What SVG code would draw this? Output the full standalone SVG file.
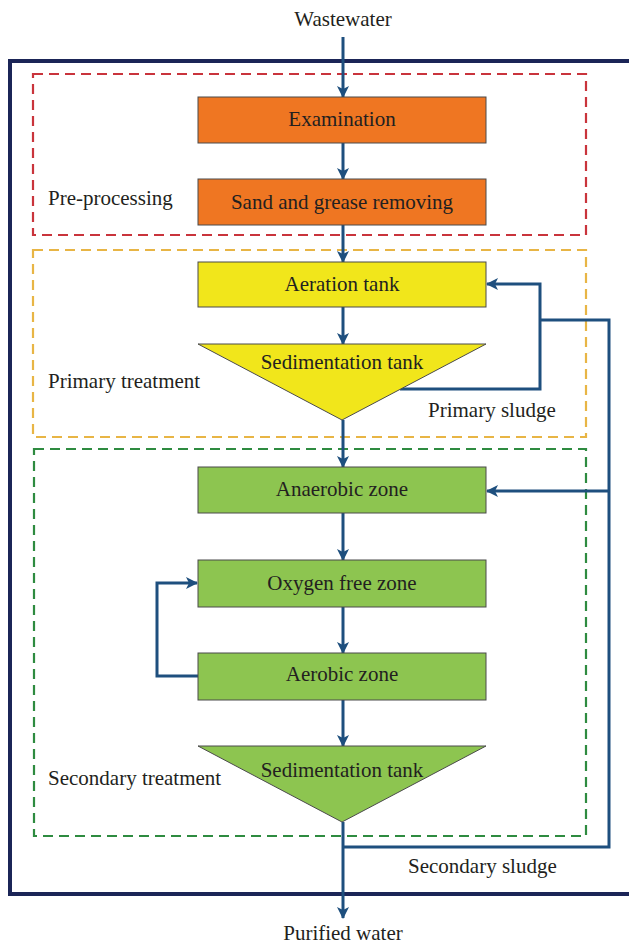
<svg xmlns="http://www.w3.org/2000/svg" width="629" height="946" viewBox="0 0 629 946">
<defs>
<marker id="ah" markerWidth="12" markerHeight="12" viewBox="0 0 12 12" refX="11" refY="6" orient="auto" markerUnits="userSpaceOnUse">
<path d="M0,0 L12,6 L0,12 L3,6 z" fill="#1e4f7e"/>
</marker>
<style>
text{font-family:"Liberation Serif","Times New Roman",serif;font-size:21px;fill:#231f20}
.c{text-anchor:middle}
.node{stroke:#4a4a4a;stroke-width:1}
.or{fill:#ef7622}
.ye{fill:#f1e61b}
.gr{fill:#8dc550}
.con{fill:none;stroke:#1e4f7e;stroke-width:3}
.arr{marker-end:url(#ah)}
.dash{fill:none;stroke-width:2.2;stroke-dasharray:10 6}
</style>
</defs>
<rect width="629" height="946" fill="#fff"/>
<g id="frame">
<rect x="10" y="61" width="640" height="833" fill="none" stroke="#1b2557" stroke-width="4"/>
</g>
<g id="zones">
<rect class="dash" x="33" y="74" width="553" height="161" stroke="#c9343c"/>
<rect class="dash" x="33" y="250" width="553" height="187" stroke="#e8b545"/>
<rect class="dash" x="34" y="449" width="552" height="387" stroke="#2e8b40"/>
<text x="48" y="205">Pre-processing</text>
<text x="48" y="388">Primary treatment</text>
<text x="48" y="785">Secondary treatment</text>
</g>
<g id="connectors">
<line class="con arr" x1="343" y1="37" x2="343" y2="97"/>
<line class="con arr" x1="343" y1="143" x2="343" y2="179"/>
<line class="con arr" x1="343" y1="225" x2="343" y2="262"/>
<line class="con arr" x1="343" y1="307" x2="343" y2="344"/>
<line class="con arr" x1="343" y1="420" x2="343" y2="467"/>
<line class="con arr" x1="343" y1="513" x2="343" y2="560"/>
<line class="con arr" x1="343" y1="607" x2="343" y2="653"/>
<line class="con arr" x1="343" y1="700" x2="343" y2="746"/>
<line class="con arr" x1="343" y1="822" x2="343" y2="918"/>
<polyline class="con arr" points="400,389 540,389 540,284 487,284"/>
<polyline class="con" points="343,847 609,847 609,320 540,320"/>
<line class="con arr" x1="609" y1="491" x2="487" y2="491"/>
<polyline class="con arr" points="198,676 157,676 157,583 197,583"/>
</g>
<g id="wastewater"><text class="c" x="343" y="26">Wastewater</text></g>
<g id="examination">
<rect class="node or" x="198" y="97" width="288" height="46"/>
<text class="c" x="342" y="126">Examination</text>
</g>
<g id="sand">
<rect class="node or" x="198" y="179" width="288" height="46"/>
<text class="c" x="342" y="209">Sand and grease removing</text>
</g>
<g id="aeration">
<rect class="node ye" x="198" y="262" width="288" height="45"/>
<text class="c" x="342" y="291">Aeration tank</text>
</g>
<g id="sed1">
<polygon class="node ye" points="198,344 486,344 342,420"/>
<text class="c" x="342" y="369">Sedimentation tank</text>
</g>
<g id="primary-sludge"><text x="428" y="417">Primary sludge</text></g>
<g id="anaerobic">
<rect class="node gr" x="198" y="467" width="288" height="46"/>
<text class="c" x="342" y="496">Anaerobic zone</text>
</g>
<g id="oxygen">
<rect class="node gr" x="198" y="560" width="288" height="47"/>
<text class="c" x="342" y="590">Oxygen free zone</text>
</g>
<g id="aerobic">
<rect class="node gr" x="198" y="653" width="288" height="47"/>
<text class="c" x="342" y="681">Aerobic zone</text>
</g>
<g id="sed2">
<polygon class="node gr" points="198,746 486,746 342,822"/>
<text class="c" x="342" y="777">Sedimentation tank</text>
</g>
<g id="secondary-sludge"><text x="408" y="873">Secondary sludge</text></g>
<g id="purified"><text class="c" x="343" y="940">Purified water</text></g>
</svg>
